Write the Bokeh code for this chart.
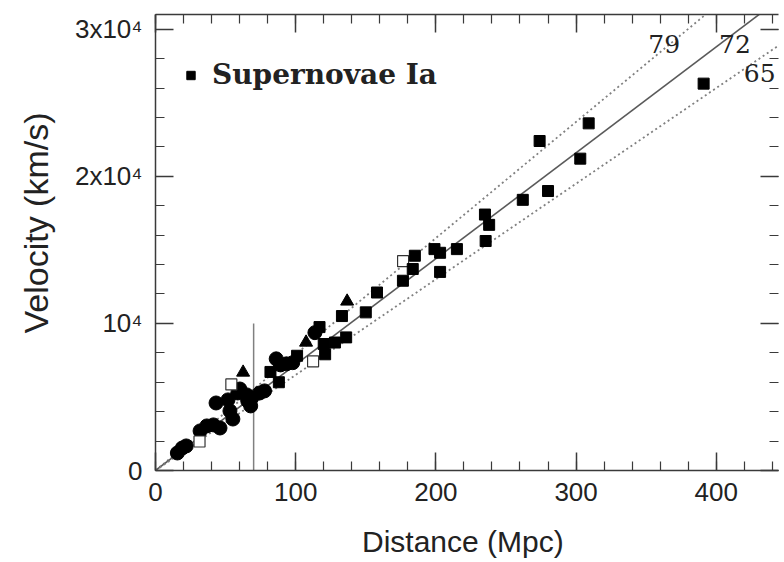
from bokeh.plotting import figure
from bokeh.models import (Range1d, FixedTicker, LinearAxis, Label, Legend, LegendItem,
                          CustomLabelingPolicy, Title)
from bokeh.embed import file_html
from bokeh.resources import INLINE

# ---- data (distance in Mpc, velocity in km/s) ----
# Supernovae Ia (filled squares)
sn_d = [391, 309, 274, 303, 280, 262, 238, 235.5, 235, 215, 199, 203, 185, 183.5,
        203, 176.5, 158, 150, 133, 136, 128, 120, 121, 117, 82, 101, 88]
sn_v = [26300, 23600, 22400, 21200, 19000, 18400, 16700, 15600, 17400, 15050, 15050,
        14800, 14600, 13700, 13500, 12900, 12100, 10750, 10500, 9050, 8700, 8600,
        7900, 9750, 6700, 7800, 6000]
# Tully-Fisher (filled circles)
tf_d = [15.6, 19.1, 21.9, 31.8, 36.6, 41.3, 46, 43.2, 51.7, 53.1, 55.2, 58.7, 65.1,
        68.6, 67.9, 74.3, 77.8, 65.8, 86.1, 89.2, 93.4, 97.9, 113.7, 60.2]
tf_v = [1190, 1530, 1670, 2690, 3030, 3100, 2890, 4590, 4800, 4050, 3500, 5270, 5140,
        4930, 4390, 5270, 5410, 4730, 7590, 7180, 7250, 7330, 9370, 5540]
# Fundamental plane (filled triangles)
fp_d = [62.5, 107.4, 136.7]
fp_v = [6670, 8710, 11500]
# Open squares
os_d = [31.4, 54.1, 112.4, 176.6]
os_v = [1970, 5850, 7420, 14230]

# Hubble-law lines
h0_values = [79, 72, 65]
h0_labels = ["79", "72", "65"]
line_d = [0, 450]

# local-volume marker line
cut_d = 70
cut_v = 10000

x_major = [0, 100, 200, 300, 400]
x_minor = list(range(0, 460, 20))
y_major = [0, 10000, 20000, 30000]
y_minor = list(range(0, 32000, 2000))
y_tick_labels = ["0", "10⁴", "2x10⁴", "3x10⁴"]

AX = "#3a3a3a"
TXT = "#222222"
W, H = 784, 562

p = figure(width=W, height=H, output_backend="svg", toolbar_location=None,
           x_range=Range1d(0, 444.4), y_range=Range1d(0, 31000),
           min_border_left=155, min_border_top=14, min_border_right=1,
           min_border_bottom=92, background_fill_color="white",
           border_fill_color="white")
p.grid.visible = False
p.outline_line_color = None

no_labels = CustomLabelingPolicy(code="return new Set()")

def style_axis(ax, labels=True):
    ax.axis_line_color = AX
    ax.axis_line_width = 1.5
    ax.major_tick_line_color = AX
    ax.minor_tick_line_color = AX
    ax.major_tick_line_width = 1.5
    ax.minor_tick_line_width = 1.2
    ax.major_tick_in = 18
    ax.major_tick_out = 0
    ax.minor_tick_in = 9
    ax.minor_tick_out = 0
    if labels:
        ax.major_label_text_font = "Liberation Sans"
        ax.major_label_text_font_size = "26px"
        ax.major_label_text_color = TXT
    else:
        ax.major_label_policy = no_labels
        ax.major_label_text_font_size = "1px"
        ax.major_label_standoff = 0
        ax.axis_label_standoff = 0

xb = p.xaxis[0]
xb.ticker = FixedTicker(ticks=x_major, minor_ticks=x_minor)
style_axis(xb)
xb.major_label_standoff = 12
xb.axis_label = "Distance  (Mpc)"
xb.axis_label_text_font = "Liberation Sans"
xb.axis_label_text_font_size = "30px"
xb.axis_label_text_font_style = "normal"
xb.axis_label_text_color = TXT
xb.axis_label_standoff = 21

yl = p.yaxis[0]
yl.ticker = FixedTicker(ticks=y_major, minor_ticks=y_minor)
yl.major_label_overrides = {t: s for t, s in zip(y_major, y_tick_labels)}
style_axis(yl)
yl.major_label_standoff = 13

xt = LinearAxis(ticker=FixedTicker(ticks=x_major, minor_ticks=x_minor))
style_axis(xt, labels=False)
p.add_layout(xt, "above")

yr = LinearAxis(ticker=FixedTicker(ticks=y_major, minor_ticks=y_minor))
style_axis(yr, labels=False)
yr.axis_line_color = None
p.add_layout(yr, "right")

# y-axis title, as a left-side title so that it can sit above the frame centre
ytitle = Title(text="Velocity (km/s)", align="left", vertical_align="top",
               offset=137, standoff=30,
               text_font="Liberation Sans", text_font_size="34px",
               text_font_style="normal", text_color=TXT)
p.add_layout(ytitle, "left")

# Hubble lines
for h0 in h0_values:
    vs = [h0 * d for d in line_d]
    if h0 == 72:
        p.line(line_d, vs, line_color="#5a5a5a", line_width=1.6)
    else:
        p.line(line_d, vs, line_color="#808080", line_width=1.8, line_dash="2 3")

p.segment(x0=[cut_d], y0=[0], x1=[cut_d], y1=[cut_v], line_color="#808080", line_width=1.5)

# points
p.scatter(tf_d, tf_v, marker="circle", size=14, fill_color="black", line_color="black")
p.scatter(fp_d, fp_v, marker="triangle", size=13, fill_color="black", line_color="black")
p.scatter(os_d, os_v, marker="square", size=11, fill_color="white", line_color="#333333",
          line_width=1.2)
r_sn = p.scatter(sn_d, sn_v, marker="square", size=11, fill_color="black", line_color="black")

# H0 labels
h0_pos = [(351.5, 29000), (402, 29000), (419.7, 27000)]
for (lx, ly), txt in zip(h0_pos, h0_labels):
    p.add_layout(Label(x=lx, y=ly, text=txt, text_font="DejaVu Serif",
                       text_font_size="25px", text_color=TXT,
                       text_align="left", text_baseline="alphabetic"))

legend = Legend(items=[LegendItem(label="Supernovae Ia", renderers=[r_sn])],
                location=(25, 379), glyph_width=21, glyph_height=30, label_height=30,
                label_standoff=11, padding=0, margin=0, spacing=0,
                border_line_color=None, background_fill_alpha=0,
                label_text_font="DejaVu Serif", label_text_font_style="bold",
                label_text_font_size="28px", label_text_color=TXT)
p.add_layout(legend)

open("out.html", "w").write(file_html(p, INLINE))
